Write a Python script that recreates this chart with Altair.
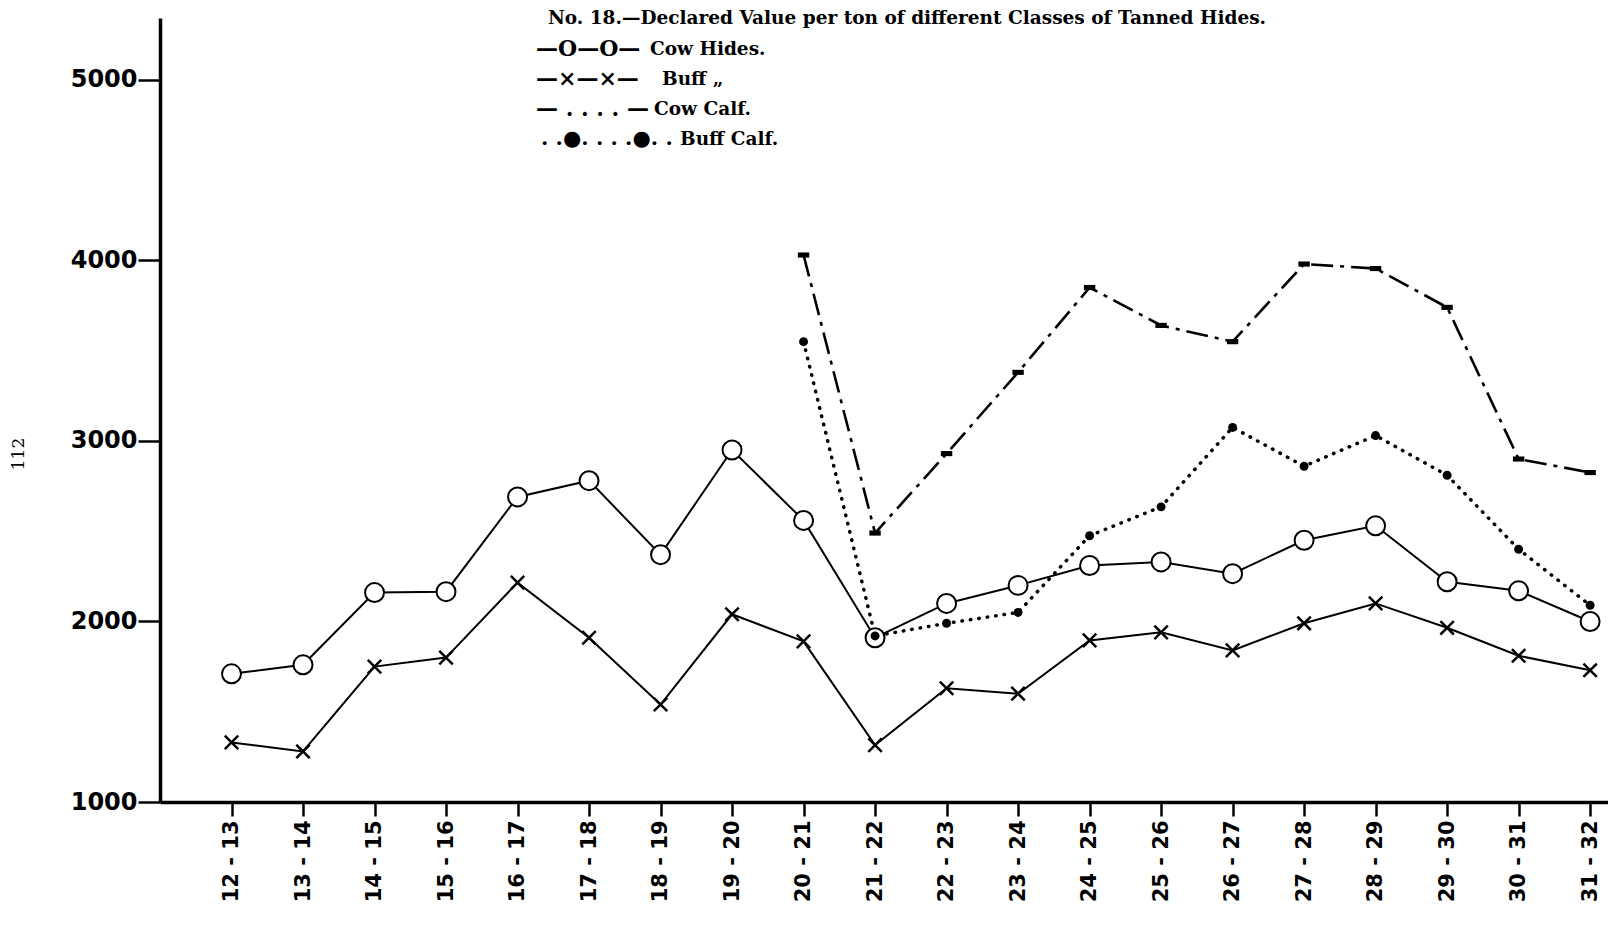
import altair as alt
import pandas as pd

periods = ["12 - 13", "13 - 14", "14 - 15", "15 - 16", "16 - 17", "17 - 18", "18 - 19",
           "19 - 20", "20 - 21", "21 - 22", "22 - 23", "23 - 24", "24 - 25", "25 - 26",
           "26 - 27", "27 - 28", "28 - 29", "29 - 30", "30 - 31", "31 - 32"]
cow_hides = [1710, 1760, 2160, 2165, 2690, 2780, 2370, 2950, 2560, 1910,
             2100, 2200, 2310, 2330, 2265, 2450, 2530, 2220, 2170, 2000]
buff_hides = [1330, 1280, 1750, 1800, 2215, 1910, 1540, 2040, 1890, 1315,
              1630, 1600, 1895, 1940, 1840, 1990, 2100, 1965, 1810, 1730]
calf_start = 8  # series below begin at "20 - 21"
cow_calf = [4030, 2490, 2930, 3380, 3850, 3640, 3550, 3980, 3955, 3740, 2900, 2825]
buff_calf = [3550, 1920, 1990, 2050, 2475, 2635, 3075, 2860, 3030, 2810, 2400, 2090]
y_ticks = [1000, 2000, 3000, 4000, 5000]

title_text = "No. 18.\u2014Declared Value per ton of different Classes of Tanned Hides."
legend_symbols = ["\u2014O\u2014O\u2014", "\u2014\u00d7\u2014\u00d7\u2014",
                  "\u2014 . . . . \u2014", ". .\u25cf. . . .\u25cf. ."]
legend_labels = ["Cow Hides.", "Buff   \u201e", "Cow Calf.", "Buff Calf."]

def frame(vals, start=0):
    return pd.DataFrame({"idx": list(range(start, start + len(vals))), "value": vals})

label_js = "[" + ",".join("'%s'" % p for p in periods) + "][datum.value]"

X = alt.X("idx:Q", scale=alt.Scale(domain=[-1, 19.25], nice=False, zero=False),
          axis=alt.Axis(values=list(range(len(periods))), labelExpr=label_js, title=None,
                        labelAngle=270, labelFontSize=21, labelFontWeight="bold",
                        labelFont="DejaVu Sans", labelColor="black", tickSize=14,
                        tickWidth=2.5, tickColor="black", domainWidth=3.5,
                        domainColor="black", labelPadding=4, grid=False))
Y = alt.Y("value:Q", scale=alt.Scale(domain=[1000, 5343], nice=False, zero=False),
          axis=alt.Axis(values=y_ticks, format="d", title=None, labelFontSize=24,
                        labelFontWeight="bold", labelFont="DejaVu Sans", labelColor="black",
                        tickSize=22, tickWidth=2.5, tickColor="black", domainWidth=3.5,
                        domainColor="black", labelPadding=1, grid=False))

ch = frame(cow_hides)
bh = frame(buff_hides)
cc = frame(cow_calf, calf_start)
bc = frame(buff_calf, calf_start)

cow_line = alt.Chart(ch).mark_line(color="black", strokeWidth=2).encode(x=X, y=Y)
cow_pts = alt.Chart(ch).mark_point(shape="circle", size=360, filled=True, fill="white",
                                   stroke="black", strokeWidth=2, opacity=1).encode(x=X, y=Y)
buff_line = alt.Chart(bh).mark_line(color="black", strokeWidth=2).encode(x=X, y=Y)
buff_pts = alt.Chart(bh).mark_point(shape="M-1,-1L1,1M-1,1L1,-1", size=180, stroke="black",
                                    strokeWidth=2.5, opacity=1).encode(x=X, y=Y)
cc_line = alt.Chart(cc).mark_line(color="black", strokeWidth=2.6,
                                  strokeDash=[22, 7, 4, 7]).encode(x=X, y=Y)
cc_pts = alt.Chart(cc).mark_point(shape="M-1,-0.45L1,-0.45L1,0.45L-1,0.45Z", size=130,
                                  filled=True, color="black", opacity=1).encode(x=X, y=Y)
bc_line = alt.Chart(bc).mark_line(color="black", strokeWidth=3.5, strokeCap="round",
                                  strokeDash=[0.5, 8]).encode(x=X, y=Y)
bc_pts = alt.Chart(bc).mark_point(shape="circle", size=80, filled=True, color="black",
                                  opacity=1).encode(x=X, y=Y)

one = pd.DataFrame({"k": [0]})
title = alt.Chart(one).mark_text(text=title_text, font="DejaVu Serif", fontWeight="bold",
                                 fontSize=18.5, align="center", baseline="middle",
                                 color="black").encode(x=alt.value(747), y=alt.value(0))
legend_layers = []
label_x = [490, 502, 494, 520]
sym_size = [22, 22, 22, 21]
for i in range(len(legend_labels)):
    legend_layers.append(
        alt.Chart(one).mark_text(text=legend_symbols[i], font="DejaVu Serif",
                                 fontWeight="bold", fontSize=sym_size[i], align="left",
                                 baseline="middle", color="black").encode(
            x=alt.value(376 if i < 3 else 381), y=alt.value(31 + 30 * i)))
    legend_layers.append(
        alt.Chart(one).mark_text(text=legend_labels[i], font="DejaVu Serif",
                                 fontWeight="bold", fontSize=18.5, align="left",
                                 baseline="middle", color="black").encode(
            x=alt.value(label_x[i]), y=alt.value(31 + 30 * i)))
page_no = alt.Chart(one).mark_text(text="112", font="DejaVu Serif", fontSize=17,
                                   angle=270, align="center", baseline="middle",
                                   color="black").encode(x=alt.value(-141), y=alt.value(436))

chart = alt.layer(cow_line, buff_line, cc_line, bc_line, cow_pts, buff_pts, cc_pts, bc_pts,
                  title, page_no, *legend_layers).properties(
    width=1448, height=784, autosize="none",
    padding={"left": 152, "top": 10, "right": 0, "bottom": 105},
    background="white",
).configure_view(stroke=None)

chart.save("out.html", embed_options={"renderer": "svg", "actions": False})
